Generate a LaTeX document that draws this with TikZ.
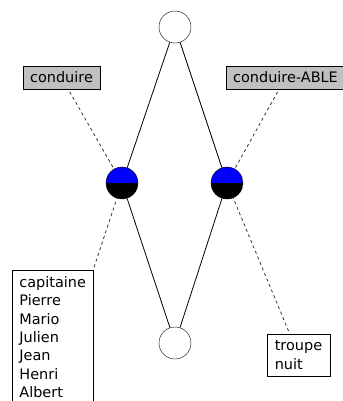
\documentclass[tikz,border=0pt]{standalone}
\usepackage{fontspec}
\setmainfont{DejaVu Sans}
\usepackage{tikz}
\usetikzlibrary{positioning}
\definecolor{labelgray}{RGB}{192, 192, 192}
\definecolor{conceptblue}{RGB}{0, 0, 255}

\begin{document}
\begin{tikzpicture}[
    x=1bp, y=-1bp,
    font=\fontsize{14.5}{18.5}\selectfont,
    empty/.style={circle, draw, fill=white, minimum size=32bp, inner sep=0pt},
    concept/.style={circle, draw, minimum size=32bp, inner sep=0pt,
        path picture={
            \fill[conceptblue] (path picture bounding box.north west) rectangle (path picture bounding box.east);
            \fill[black] (path picture bounding box.west) rectangle (path picture bounding box.south east);
        }},
    attr/.style={rectangle, draw, fill=labelgray, inner xsep=7bp, minimum height=23bp},
    objs/.style={rectangle, draw, fill=white, align=left, inner xsep=7bp, inner ysep=6bp},
    link/.style={thick},
    dotted link/.style={thick, dashed, gray!40!black, shorten <=3bp}
]
    \useasboundingbox (0,0) rectangle (343,401);
    \clip (0,0) rectangle (343,401);

    \node[empty] (top) at (175, 27) {};
    \node[concept] (cleft) at (122, 183) {};
    \node[concept] (cright) at (227, 183) {};
    \node[empty] (bottom) at (175, 343) {};

    \node[attr] (a1) at (61.5, 77.5) {conduire};
    \node[attr, anchor=west] (a2) at (226, 77.5) {conduire-ABLE};

    \node[objs, anchor=north west, minimum width=81bp, minimum height=150bp, text depth=110bp] (o1) at (12, 270) {capitaine\\Pierre\\Mario\\Julien\\Jean\\Henri\\Albert};
    \node[objs, minimum width=63bp, minimum height=42bp] (o2) at (298.5, 355) {troupe\\nuit};

    \draw[link] (top) -- (cleft);
    \draw[link] (top) -- (cright);
    \draw[link] (cleft) -- (bottom);
    \draw[link] (cright) -- (bottom);

    \draw[dotted link] (a1) -- (cleft);
    \draw[dotted link] (a2) -- (cright);
    \draw[dotted link] (o1) -- (cleft);
    \draw[dotted link] (o2) -- (cright);
\end{tikzpicture}
\end{document}
